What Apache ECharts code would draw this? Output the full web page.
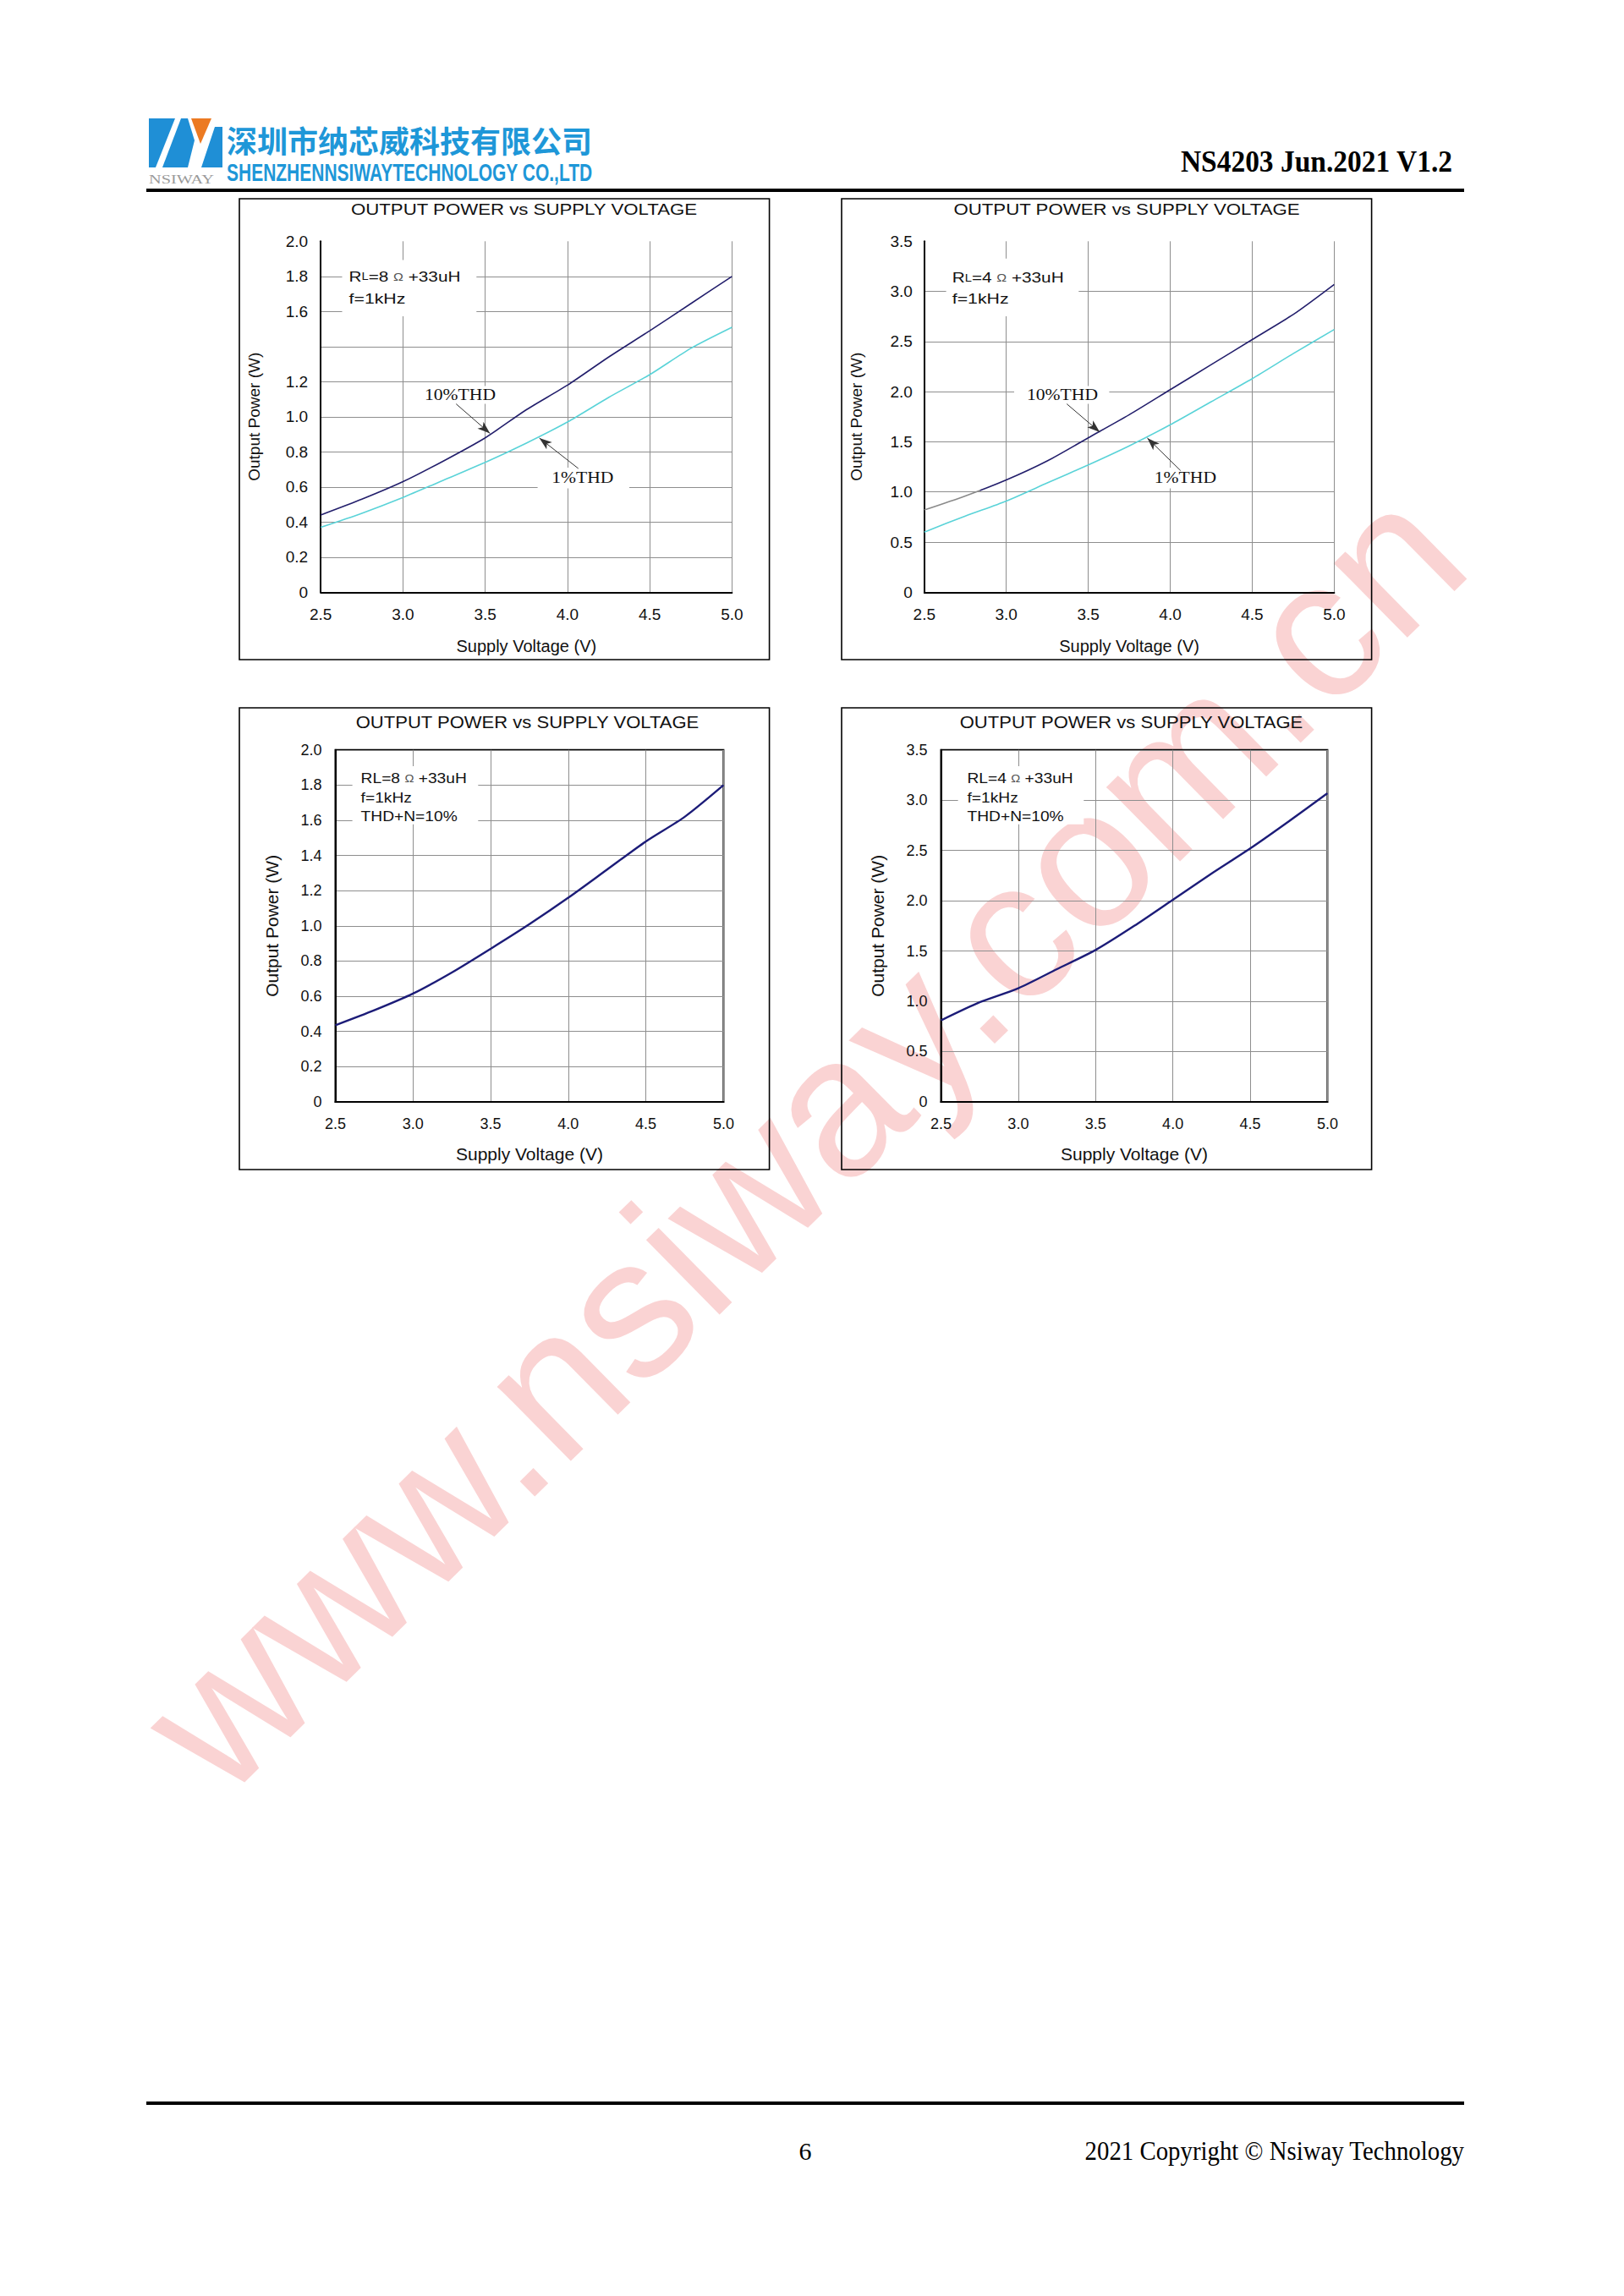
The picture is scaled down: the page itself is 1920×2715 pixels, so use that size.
<!DOCTYPE html>
<html><head><meta charset="utf-8">
<script src="https://cdn.jsdelivr.net/npm/echarts@6/dist/echarts.min.js"></script>
<style>html,body{margin:0;padding:0;background:#fff;}#main{width:1920px;height:2715px;}</style>
</head><body><div id="main"></div>
<script>
// ---------- data ----------
const volts = [2.5, 2.75, 3.0, 3.25, 3.5, 3.75, 4.0, 4.25, 4.5, 4.75, 5.0];
// RL = 8 ohm + 33uH, f = 1kHz
const p10thd_8ohm = [0.44, 0.53, 0.63, 0.75, 0.88, 1.04, 1.18, 1.34, 1.49, 1.645, 1.80];
const p1thd_8ohm  = [0.37, 0.45, 0.54, 0.64, 0.74, 0.85, 0.97, 1.11, 1.24, 1.39, 1.51];
// RL = 4 ohm + 33uH, f = 1kHz
const p10thd_4ohm = [0.82, 0.96, 1.12, 1.31, 1.54, 1.77, 2.02, 2.27, 2.52, 2.77, 3.07];
const p1thd_4ohm  = [0.60, 0.76, 0.91, 1.09, 1.27, 1.46, 1.67, 1.90, 2.13, 2.38, 2.62];
// THD+N = 10%
const pThdN10_8ohm = [0.435, 0.52, 0.615, 0.735, 0.87, 1.01, 1.16, 1.32, 1.48, 1.62, 1.80];
const pThdN10_4ohm = [0.81, 0.99, 1.13, 1.32, 1.51, 1.75, 2.01, 2.27, 2.52, 2.79, 3.07];
// tick labels
const xTickLabels = ['2.5', '3.0', '3.5', '4.0', '4.5', '5.0'];
const yTickLabels2W_gap = ['0', '0.2', '0.4', '0.6', '0.8', '1.0', '1.2', '', '1.6', '1.8', '2.0'];
const yTickLabels2W = ['0', '0.2', '0.4', '0.6', '0.8', '1.0', '1.2', '1.4', '1.6', '1.8', '2.0'];
const yTickLabels35W = ['0', '0.5', '1.0', '1.5', '2.0', '2.5', '3.0', '3.5'];
const chartTitle = 'OUTPUT POWER vs SUPPLY VOLTAGE';
const xName = 'Supply Voltage (V)';
const yName = 'Output Power (W)';

// ---------- styling ----------
const NAVY = '#231f6c';
const CYAN = '#5ad3d8';
const GRIDC = '#8e8e8e';
const SANS = 'Arial, "Liberation Sans", sans-serif';
const SERIF = '"Times New Roman", "Liberation Serif", serif';

const pairs = (ys) => volts.map((v, i) => [v, ys[i]]);

function makeX(gi, fs, margin, gap, nfs, maxLine) {
  return {
    type: 'value', gridIndex: gi, min: 2.5, max: 5.0, interval: 0.5,
    axisLine: { show: true, onZero: false, lineStyle: { color: '#000', width: 2 } },
    axisTick: { show: false },
    axisLabel: { fontSize: fs, color: '#111', fontFamily: SANS, margin: margin,
      formatter: (v) => xTickLabels[Math.round((v - 2.5) / 0.5)] },
    splitLine: { show: true, showMinLine: false, showMaxLine: maxLine, lineStyle: { color: GRIDC, width: 1 } },
    name: xName, nameLocation: 'middle', nameGap: gap,
    nameTextStyle: { fontSize: nfs, color: '#111', fontFamily: SANS }
  };
}
function makeY(gi, max, step, labels, fs, margin, gap, nfs, maxLine) {
  return {
    type: 'value', gridIndex: gi, min: 0, max: max, interval: step,
    axisLine: { show: true, onZero: false, lineStyle: { color: '#000', width: 2 } },
    axisTick: { show: false },
    axisLabel: { fontSize: fs, color: '#111', fontFamily: SANS, margin: margin,
      formatter: (v) => labels[Math.round(v / step)] },
    splitLine: { show: true, showMinLine: false, showMaxLine: maxLine, lineStyle: { color: GRIDC, width: 1 } },
    name: yName, nameLocation: 'middle', nameGap: gap,
    nameTextStyle: { fontSize: nfs, color: '#111', fontFamily: SANS }
  };
}
function arrowLine(from, to) {
  return {
    silent: true, animation: false, symbol: ['none', 'arrow'], symbolSize: [8, 15],
    lineStyle: { color: '#333', width: 1, type: 'solid' },
    label: { show: false }, emphasis: { disabled: true },
    data: [[{ coord: from }, { coord: to }]]
  };
}
function txt(x, y, text, font, opts) {
  opts = opts || {};
  return {
    type: 'text', x: x, y: y, z: 10, scaleX: opts.sx || 1, scaleY: opts.sy || 1,
    rotation: opts.rot || 0, silent: true,
    style: Object.assign({ text: text, font: font, fill: opts.fill || '#111',
      align: opts.align || 'left', verticalAlign: opts.va || 'middle' }, opts.style || {})
  };
}
function whiteBox(x1, y1, x2, y2) {
  return { type: 'rect', z: 1, silent: true, shape: { x: x1, y: y1, width: x2 - x1, height: y2 - y1 }, style: { fill: '#fff' } };
}
function frame(x, y, w, h) {
  return { type: 'rect', z: 10, silent: true, shape: { x: x, y: y, width: w, height: h }, style: { fill: 'none', stroke: '#000', lineWidth: 1.6 } };
}
const richR = { s: { fontSize: 12, fontFamily: SANS, fill: '#111' }, o: { fontSize: 13, fontFamily: SANS, fill: '#555' } };

const graphics = [
  // watermark
  { type: 'text', x: 948, y: 1345, z: -5, rotation: Math.PI / 4 * 0.99, silent: true,
    style: { text: 'www.nsiway.com.cn', font: '234px Arial, "Liberation Sans", sans-serif', fill: '#fad3d3', align: 'center', verticalAlign: 'middle' } },
  // logo
  { type: 'polygon', z: 3, silent: true, shape: { points: [[176,140],[207,140],[184,198],[176,198]] }, style: { fill: '#1f8fd6' } },
  { type: 'polygon', z: 3, silent: true, shape: { points: [[214,140],[222,140],[230,166],[222,198],[192,198]] }, style: { fill: '#1f8fd6' } },
  { type: 'polygon', z: 3, silent: true, shape: { points: [[226,140],[250,140],[237,170]] }, style: { fill: '#ec7a22' } },
  { type: 'polygon', z: 3, silent: true, shape: { points: [[254,150],[263,150],[263,198],[238,198]] }, style: { fill: '#1f8fd6' } },
  txt(176, 212, 'NSIWAY', '14px ' + SERIF, { fill: '#9a9a9a', sx: 1.45 }),
  txt(268, 165, '深圳市纳芯威科技有限公司', 'bold 36px "Noto Sans CJK SC", sans-serif', { fill: '#1e97d8' }),
  txt(268, 204, 'SHENZHENNSIWAYTECHNOLOGY CO.,LTD', 'bold 30px ' + SANS, { fill: '#1e97d8', sx: 0.70 }),
  txt(1717, 191, 'NS4203 Jun.2021 V1.2', 'bold 36px ' + SERIF, { align: 'right', sx: 0.93, fill: '#000' }),
  { type: 'rect', z: 10, silent: true, shape: { x: 173, y: 223, width: 1558, height: 4 }, style: { fill: '#000' } },
  // footer
  { type: 'rect', z: 10, silent: true, shape: { x: 173, y: 2485, width: 1558, height: 4 }, style: { fill: '#000' } },
  txt(952, 2543, '6', '30px ' + SERIF, { align: 'center', fill: '#000' }),
  txt(1731, 2543, '2021 Copyright © Nsiway Technology', '31px ' + SERIF, { align: 'right', sx: 0.93, fill: '#000' }),
  // frames
  frame(283, 235, 626.6, 545), frame(995, 235, 626.6, 545),
  frame(283, 837, 626.6, 546), frame(995, 837, 626.6, 546),
  // titles
  txt(619.5, 248, chartTitle, '17.5px ' + SANS, { align: 'center', sx: 1.27 }),
  txt(1332, 248, chartTitle, '17.5px ' + SANS, { align: 'center', sx: 1.27 }),
  txt(623.5, 853.5, chartTitle, '19.5px ' + SANS, { align: 'center', sx: 1.13 }),
  txt(1337.5, 853.5, chartTitle, '19.5px ' + SANS, { align: 'center', sx: 1.13 }),
  // chart 1 annotations
  whiteBox(404.5, 307.4, 563.3, 374), whiteBox(491, 456.5, 599, 477.6), whiteBox(635.6, 553, 744, 577.6),
  txt(412.6, 327.4, 'R{s|L}=8 {o|Ω} +33uH', '17px ' + SANS, { sx: 1.22, style: { rich: richR } }),
  txt(412.6, 353, 'f=1kHz', '17px ' + SANS, { sx: 1.25 }),
  txt(544, 466.3, '10%THD', '18px ' + SERIF, { align: 'center', sx: 1.2 }),
  txt(688.8, 564.6, '1%THD', '18px ' + SERIF, { align: 'center', sx: 1.2 }),
  // chart 2 annotations
  whiteBox(1118.6, 305.7, 1275.3, 374), whiteBox(1199, 456.5, 1311.4, 477.6), whiteBox(1347.6, 553, 1456, 577.6),
  txt(1125.8, 328.5, 'R{s|L}=4 {o|Ω} +33uH', '17px ' + SANS, { sx: 1.22, style: { rich: richR } }),
  txt(1125.8, 353, 'f=1kHz', '17px ' + SANS, { sx: 1.25 }),
  txt(1256, 466.3, '10%THD', '18px ' + SERIF, { align: 'center', sx: 1.2 }),
  txt(1401.4, 565, '1%THD', '18px ' + SERIF, { align: 'center', sx: 1.2 }),
  // chart 3 annotations
  whiteBox(416.6, 906, 565.3, 974.8),
  txt(426.6, 920.2, 'RL=8 {o|Ω} +33uH', '17px ' + SANS, { sx: 1.13, style: { rich: richR } }),
  txt(426.6, 943.1, 'f=1kHz', '17px ' + SANS, { sx: 1.13 }),
  txt(426.6, 964.9, 'THD+N=10%', '17px ' + SANS, { sx: 1.13 }),
  // chart 4 annotations
  whiteBox(1132.6, 906, 1281.3, 974.8),
  txt(1143.5, 920.2, 'RL=4 {o|Ω} +33uH', '17px ' + SANS, { sx: 1.13, style: { rich: richR } }),
  txt(1143.5, 943.1, 'f=1kHz', '17px ' + SANS, { sx: 1.13 }),
  txt(1143.5, 964.9, 'THD+N=10%', '17px ' + SANS, { sx: 1.13 })
];

const lineBase = { type: 'line', smooth: 0.25, symbol: 'none', z: 3 };

const option = {
  backgroundColor: '#fff',
  animation: false,
  grid: [
    { left: 379.2, top: 285.3, width: 486.2, height: 415 },
    { left: 1092.8, top: 285.3, width: 484.6, height: 415 },
    { left: 396.5, top: 886.8, width: 458.9, height: 416.1, show: true, borderColor: '#000', borderWidth: 2, backgroundColor: 'transparent' },
    { left: 1112.5, top: 886.8, width: 456.9, height: 416.1, show: true, borderColor: '#000', borderWidth: 2, backgroundColor: 'transparent' }
  ],
  xAxis: [
    makeX(0, 19, 17, 54, 20, true),
    makeX(1, 19, 17, 54, 20, true),
    makeX(2, 18, 17, 51, 21, true),
    makeX(3, 18, 17, 51, 21, true)
  ],
  yAxis: [
    makeY(0, 2.0, 0.2, yTickLabels2W_gap, 19, 15, 69, 19, false),
    makeY(1, 3.5, 0.5, yTickLabels35W, 19, 14, 71, 19, false),
    makeY(2, 2.0, 0.2, yTickLabels2W, 18, 16, 65, 21, true),
    makeY(3, 3.5, 0.5, yTickLabels35W, 18, 16, 65, 21, true)
  ],
  series: [
    Object.assign({}, lineBase, { name: '10%THD 8Ω', xAxisIndex: 0, yAxisIndex: 0, data: pairs(p10thd_8ohm),
      lineStyle: { color: NAVY, width: 1.6 },
      markLine: arrowLine([3.323, 1.073], [3.529, 0.905]) }),
    Object.assign({}, lineBase, { name: '1%THD 8Ω', xAxisIndex: 0, yAxisIndex: 0, data: pairs(p1thd_8ohm),
      lineStyle: { color: CYAN, width: 1.6 },
      markLine: arrowLine([4.066, 0.705], [3.829, 0.879]) }),
    Object.assign({}, lineBase, { name: '10%THD 4Ω', xAxisIndex: 1, yAxisIndex: 1, data: pairs(p10thd_4ohm),
      lineStyle: { width: 1.6, color: new echarts.graphic.LinearGradient(0, 0, 1, 0, [
        { offset: 0, color: '#8a8a8a' }, { offset: 0.135, color: '#8a8a8a' },
        { offset: 0.137, color: NAVY }, { offset: 1, color: NAVY }]) },
      markLine: arrowLine([3.369, 1.878], [3.570, 1.597]) }),
    Object.assign({}, lineBase, { name: '1%THD 4Ω', xAxisIndex: 1, yAxisIndex: 1, data: pairs(p1thd_4ohm),
      lineStyle: { color: CYAN, width: 1.6 },
      markLine: arrowLine([4.063, 1.213], [3.860, 1.538]) }),
    Object.assign({}, lineBase, { name: 'THD+N=10% 8Ω', xAxisIndex: 2, yAxisIndex: 2, data: pairs(pThdN10_8ohm),
      lineStyle: { color: '#1c1c78', width: 2.4 } }),
    Object.assign({}, lineBase, { name: 'THD+N=10% 4Ω', xAxisIndex: 3, yAxisIndex: 3, data: pairs(pThdN10_4ohm),
      lineStyle: { color: '#1c1c78', width: 2.4 } })
  ],
  graphic: { elements: graphics }
};

const chart = echarts.init(document.getElementById('main'), null, { renderer: 'svg', width: 1920, height: 2715 });
chart.setOption(option);
</script>
</body></html>
